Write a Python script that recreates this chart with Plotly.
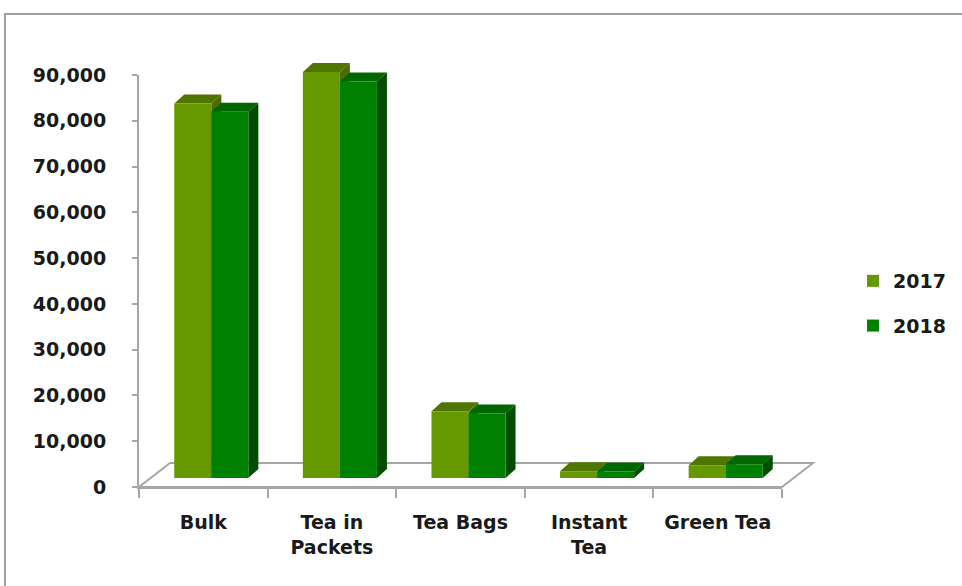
import plotly.graph_objects as go

# ---------------- data ----------------
categories = ["Bulk", "Tea in<br>Packets", "Tea Bags", "Instant<br>Tea", "Green Tea"]
series_names = ["2017", "2018"]
values_2017 = [81800, 88700, 14600, 1500, 2800]
values_2018 = [80000, 86600, 14100, 1400, 3000]
y_tick_values = [0, 10000, 20000, 30000, 40000, 50000, 60000, 70000, 80000, 90000]

# ---------------- layout constants (pixels) ----------------
W, H = 962, 586
PLOT_L, PLOT_R = 139, 782          # front category axis
BASE_Y, TOP_Y = 487, 75            # y of 0 and of 90,000 on front axis
Y_MAX = 90000
SHIFT_X, SHIFT_Y = 8, 9            # bar plane offset (oblique depth)
FLOOR_DX, FLOOR_DY = 31, 24        # floor depth
FACE_DX, FACE_DY = 10, 9           # bar depth faces
BAR_W = 0.288

C17_FRONT, C17_TOP, C17_SIDE = "#669900", "#4f7600", "#4a6c00"
C18_FRONT, C18_TOP, C18_SIDE = "#008000", "#006600", "#004d00"
GRID = "#a6a6a6"
TXT = "#1a1a1a"
FONT = dict(family="DejaVu Sans", size=19, color=TXT, weight="bold")


def fx(p):
    return p / W


def fy(p):
    return 1 - p / H


px_per_val = (BASE_Y - TOP_Y) / Y_MAX
n = len(categories)
slot_px = (PLOT_R - PLOT_L) / n
bar_base = BASE_Y - SHIFT_Y
y2_max = 100000

fig = go.Figure()

# invisible trace to build the front category axis
fig.add_trace(go.Scatter(x=categories, y=[0] * n, mode="markers",
                         marker=dict(opacity=0), hoverinfo="skip",
                         showlegend=False, xaxis="x", yaxis="y"))

idx = list(range(n))
labels_plain = [c.replace("<br>", " ") for c in categories]
fig.add_trace(go.Bar(x=idx, y=values_2017, name=series_names[0], xaxis="x2", yaxis="y2",
                     width=BAR_W, offset=-BAR_W, marker=dict(color=C17_FRONT, line=dict(width=0)),
                     legendgroup="a", customdata=labels_plain,
                     hovertemplate="%{customdata}: %{y:,}<extra>2017</extra>"))
fig.add_trace(go.Bar(x=idx, y=values_2018, name=series_names[1], xaxis="x2", yaxis="y2",
                     width=BAR_W, offset=0, marker=dict(color=C18_FRONT, line=dict(width=0)),
                     legendgroup="b", customdata=labels_plain,
                     hovertemplate="%{customdata}: %{y:,}<extra>2018</extra>"))

shapes = []

# frame
shapes.append(dict(type="rect", xref="paper", yref="paper", x0=fx(5), x1=1.05, y0=-0.05, y1=fy(14),
                   line=dict(color="#a0a0a0", width=2), fillcolor="rgba(0,0,0,0)", layer="below"))

# floor
fl = [(PLOT_L, BASE_Y), (PLOT_R, BASE_Y), (PLOT_R + FLOOR_DX, BASE_Y - FLOOR_DY), (PLOT_L + FLOOR_DX, BASE_Y - FLOOR_DY)]
path = "M " + " L ".join(f"{fx(a):.5f},{fy(b):.5f}" for a, b in fl) + " Z"
shapes.append(dict(type="path", xref="paper", yref="paper", path=path,
                   line=dict(color=GRID, width=2), fillcolor="white", layer="below"))

# 3D faces for bars (data coordinates on x2/y2)
dx = FACE_DX / slot_px
dy = FACE_DY / px_per_val


def poly(pts):
    return "M " + " L ".join(f"{a:.5f},{b:.3f}" for a, b in pts) + " Z"


for vals, off, ctop, cside in [(values_2017, -BAR_W, C17_TOP, C17_SIDE),
                               (values_2018, 0.0, C18_TOP, C18_SIDE)]:
    for i, v in enumerate(vals):
        x0 = i + off
        x1 = x0 + BAR_W
        top = poly([(x0, v), (x1, v), (x1 + dx, v + dy), (x0 + dx, v + dy)])
        side = poly([(x1, 0), (x1, v), (x1 + dx, v + dy), (x1 + dx, dy)])
        shapes.append(dict(type="path", xref="x2", yref="y2", path=top,
                           fillcolor=ctop, line=dict(width=0), layer="below"))
        shapes.append(dict(type="path", xref="x2", yref="y2", path=side,
                           fillcolor=cside, line=dict(width=0), layer="below"))

fig.update_layout(
    width=W, height=H, autosize=False,
    margin=dict(l=0, r=0, t=0, b=0, pad=0, autoexpand=False),
    paper_bgcolor="white", plot_bgcolor="rgba(0,0,0,0)",
    barmode="overlay",
    showlegend=True,
    legend=dict(x=fx(853), y=fy(262), xanchor="left", yanchor="top",
                font=FONT, tracegroupgap=17, bgcolor="rgba(0,0,0,0)",
                traceorder="grouped"),
    xaxis=dict(domain=[fx(PLOT_L), fx(PLOT_R)], type="category", categoryorder="array",
               categoryarray=categories, range=[-0.5, n - 0.5], tickson="boundaries",
               ticks="outside", ticklen=9, tickcolor=GRID, tickwidth=2,
               showline=True, linecolor=GRID, linewidth=2, showgrid=False, zeroline=False,
               tickfont=FONT, ticklabelstandoff=17, anchor="y", fixedrange=True,
               automargin=False),
    yaxis=dict(domain=[fy(BASE_Y), fy(TOP_Y)], range=[0, Y_MAX], tickmode="array",
               tickvals=y_tick_values, tickformat=",", ticks="outside", ticklen=5,
               tickcolor=GRID, tickwidth=2, showline=True, linecolor=GRID, linewidth=2,
               showgrid=False, zeroline=False, tickfont=FONT, ticklabelstandoff=22,
               anchor="x", fixedrange=True, automargin=False),
    xaxis2=dict(domain=[fx(PLOT_L + SHIFT_X), fx(PLOT_R + SHIFT_X)], range=[-0.5, n - 0.5],
                visible=False, anchor="y2", fixedrange=True, automargin=False),
    yaxis2=dict(domain=[fy(bar_base), fy(bar_base - y2_max * px_per_val)], range=[0, y2_max],
                visible=False, anchor="x2", fixedrange=True, automargin=False),
    shapes=shapes,
)

fig.write_html("out.html")
